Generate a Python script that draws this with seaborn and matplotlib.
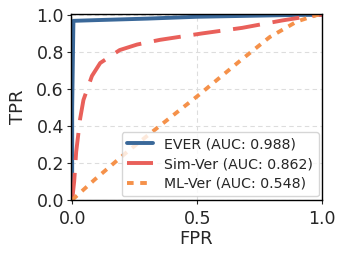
import matplotlib
matplotlib.use("Agg")
import matplotlib.pyplot as plt
import seaborn as sns

sns.set_style("white")
plt.rcParams['font.family'] = ['DejaVu Sans']

ever_fpr = [0.0, 0.0, 0.005, 0.1, 0.3, 0.5, 0.7, 0.9, 1.0]
ever_tpr = [0.0, 0.5, 0.968, 0.972, 0.98, 0.99, 0.995, 1.0, 1.0]

sim_fpr = [0.0, 0.008, 0.016, 0.032, 0.045, 0.079, 0.112, 0.19, 0.26, 0.35, 0.52, 0.68, 0.84, 0.98, 1.0]
sim_tpr = [0.0, 0.10, 0.26, 0.44, 0.54, 0.67, 0.74, 0.81, 0.84, 0.865, 0.90, 0.93, 0.97, 1.0, 1.0]

ml_fpr = [0.0, 0.09, 0.22, 0.35, 0.5, 0.67, 0.79, 0.9, 0.98, 1.0]
ml_tpr = [0.0, 0.11, 0.26, 0.40, 0.56, 0.75, 0.88, 0.965, 1.0, 1.0]

labels = ["EVER (AUC: 0.988)", "Sim-Ver (AUC: 0.862)", "ML-Ver (AUC: 0.548)"]
colors = ["#3a6899", "#e9605a", "#f5914a"]

fig = plt.figure(figsize=(3.46, 2.59), dpi=100)
ax = fig.add_axes([0.205, 0.228, 0.726, 0.718])

ax.grid(True, linestyle=(0, (4, 3)), color="#dddddd", linewidth=0.8)
ax.set_axisbelow(True)

lw = 2.8
sns.lineplot(x=ever_fpr, y=ever_tpr, sort=False, estimator=None, ax=ax,
             color=colors[0], linewidth=lw, label=labels[0])
sns.lineplot(x=sim_fpr, y=sim_tpr, sort=False, estimator=None, ax=ax,
             color=colors[1], linewidth=lw, label=labels[1])
sns.lineplot(x=ml_fpr, y=ml_tpr, sort=False, estimator=None, ax=ax,
             color=colors[2], linewidth=lw, label=labels[2])
lines = ax.get_lines()
sim_dash = (7, 3.3)
ml_dash = (1.7, 1.7)
lines[1].set_dashes(sim_dash)
lines[2].set_dashes(ml_dash)

ax.set_xlim(-0.005, 1.0)
ax.set_ylim(0.0, 1.005)
ax.set_xticks([0.0, 0.5, 1.0])
ax.set_yticks([0.0, 0.2, 0.4, 0.6, 0.8, 1.0])
ax.tick_params(labelsize=12.5, length=3, width=0.8, pad=2, direction='out', bottom=True, left=True)
ax.tick_params(axis='x', pad=4)
ax.set_xlabel("FPR", fontsize=13, labelpad=2)
ax.set_ylabel("TPR", fontsize=13, labelpad=7)
for s in ax.spines.values():
    s.set_color("black")
    s.set_linewidth(1.0)

leg = ax.legend(loc="lower right", fontsize=10.2, frameon=True,
                borderaxespad=0.25, handlelength=1.8, handletextpad=0.8,
                labelspacing=0.4)
lh = leg.get_lines()
lh[1].set_dashes(sim_dash)
lh[2].set_dashes(ml_dash)
leg.get_frame().set_edgecolor("#cccccc")

fig.savefig("out.png", dpi=100)
